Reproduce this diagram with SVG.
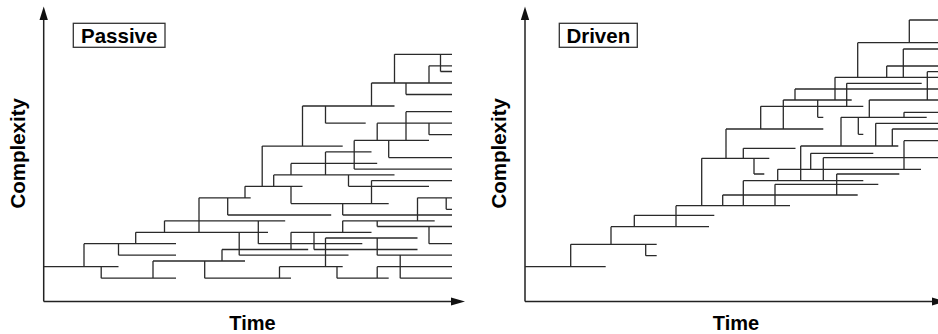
<svg xmlns="http://www.w3.org/2000/svg" width="938" height="334" viewBox="0 0 938 334">
<defs>
<style>
.ax{stroke:#222;stroke-width:1.5;fill:none}
.ah{fill:#111;stroke:none}
.tr{stroke:#2a2a2a;stroke-width:1.3;fill:none;stroke-linecap:butt}
.bx{fill:#fff;stroke:#333;stroke-width:1.3}
.lb{font-family:"Liberation Sans",Arial,Helvetica,sans-serif;font-weight:bold;font-size:20.5px;fill:#000;text-anchor:middle}
.tm{font-size:20px}
</style>
</defs>
<rect width="938" height="334" fill="#fff"/>
<g id="axes">
<path class="ax" d="M43.7 301.5V19M43.7 301.5H452"/>
<polygon class="ah" points="43.7,6.5 39.5,20 47.9,20"/>
<polygon class="ah" points="465,301.5 451,297.6 451,305.4"/>
<path class="ax" d="M525 301.5V19M525 301.5H932"/>
<polygon class="ah" points="525,6.5 520.8,20 529.2,20"/>
<polygon class="ah" points="946,301.5 932,297.6 932,305.4"/>
</g>
<g id="labels">
<text class="lb" transform="translate(25 153.3) rotate(-90)">Complexity</text>
<text class="lb" transform="translate(506 153.3) rotate(-90)">Complexity</text>
<text class="lb tm" x="252.5" y="330">Time</text>
<text class="lb tm" x="736" y="330">Time</text>
</g>
<g id="passive-label">
<rect class="bx" x="73.3" y="23.3" width="91.7" height="24"/>
<text class="lb" x="119.2" y="43.3">Passive</text>
</g>
<g id="driven-label">
<rect class="bx" x="559.3" y="23.3" width="78" height="24"/>
<text class="lb" x="598.3" y="43.3">Driven</text>
</g>
<g id="connectors">
<path id="passive-tree" class="tr" d="M43.7 266.7H118.5M84 243.7H176M101.2 278.2H176M118.5 255.2H176M135.7 232.3H268M153 261H245M164.5 220.8H285.2M199 197.8H250.7M227.7 215H331.2M204.7 278.2H291M222 249.5H308.2M239.2 255.2H348.5M245 186.3H302.5M258.3 243.7H362.3M262.2 146.1H342.7M302.5 106H394.5M325.5 123.2H365.7M394.5 54.3H452M371.5 83H452M440.5 71.5H452M429 65.8H452M406 94.5H452M406 111.7H452M377.2 123.2H452M429 134.7H452M354.2 140.4H429M388.7 157.6H452M325.5 151.9H371.5M291 163.4H377.2M354.2 169.1H452M273.7 174.9H394.5M291 203.6H388.7M348.5 186.3H429M371.5 180.6H452M417.5 197.8H452M446.2 209.3H452M342.7 215H452M342.7 220.8H434.7M377.2 226.5H452M429 243.7H452M291 232.3H371.5M314 249.5H417.5M325.5 238H417.5M377.2 255.2H452M279.5 266.7H342.7M337 278.2H388.7M377.2 266.7H452M400.2 278.2H452
M84 266.7V243.7M101.2 266.7V278.2M118.5 255.2V243.7M135.7 243.7V232.3M153 278.2V261M164.5 232.3V220.8M199 232.3V197.8M227.7 197.8V215M204.7 278.2V261M222 261V249.5M239.2 232.3V255.2M245 197.8V186.3M258.3 220.8V243.7M262.2 186.3V146.1M302.5 146.1V106M325.5 106V123.2M371.5 106V83M394.5 83V54.3M440.5 54.3V71.5M429 83V65.8M406 83V94.5M406 111.7V140.4M377.2 123.2V140.4M429 123.2V134.7M354.2 140.4V169.1M388.7 140.4V157.6M325.5 151.9V174.9M291 174.9V163.4M273.7 186.3V174.9M291 186.3V203.6M348.5 174.9V186.3M371.5 203.6V180.6M417.5 220.8V197.8M446.2 197.8V209.3M342.7 203.6V215M342.7 232.3V220.8M377.2 220.8V226.5M429 226.5V243.7M291 249.5V232.3M314 232.3V249.5M325.5 266.7V238M377.2 238V255.2M279.5 278.2V266.7M337 266.7V278.2M377.2 278.2V266.7M400.2 255.2V278.2"/>
<path id="driven-tree" class="tr" d="M525 266.7H605.7M570.7 244.3H656.7M645.7 255.7H656.7M611 226.7H709M634.3 215.3H714.3M676 205.7H790M701.7 158.3H769.3M726 129H823.3M743.3 148.3H795.5M754 174H764.3M760.7 106.3H863.3M777.7 169.3H921M743.3 180.7H863.3M775 184.3H878.3M722.7 195H857.7M783.3 100H851.7M795 89H938M846.7 83.3H921.7M835 77.3H938M886.7 66H938M903.3 49H938M857.7 42.7H938M909.3 20H938M927.3 71.7H938M869.3 100H938M904 112.3H938M841 117.3H926.7M817.7 117.3H823.3M858.3 134.3H863.3M875.7 123.3H938M892.3 129H938M800.7 146H898.3M904 140.7H938M810.7 153.3H873.3M823.3 157.7H938M836.7 174H899.3
M570.7 266.7V244.3M645.7 244.3V255.7M611 244.3V226.7M634.3 226.7V215.3M676 226.7V205.7M701.7 205.7V158.3M726 158.3V129M743.3 158.3V148.3M754 158.3V174M722.7 205.7V195M743.3 205.7V180.7M775 205.7V184.3M777.7 180.7V169.3M760.7 129V106.3M783.3 129V100M795 100V89M835 100V77.3M846.7 106.3V83.3M857.7 77.3V42.7M909.3 42.7V20M886.7 77.3V66M903.3 77.3V49M927.3 100V71.7M817.7 100V117.3M869.3 100V117.3M904 117.3V112.3M841 117.3V146M858.3 117.3V134.3M875.7 146V123.3M892.3 146V129M800.7 180.7V146M904 169.3V140.7M810.7 169.3V153.3M823.3 180.7V157.7M836.7 195V174"/>
</g>
</svg>
